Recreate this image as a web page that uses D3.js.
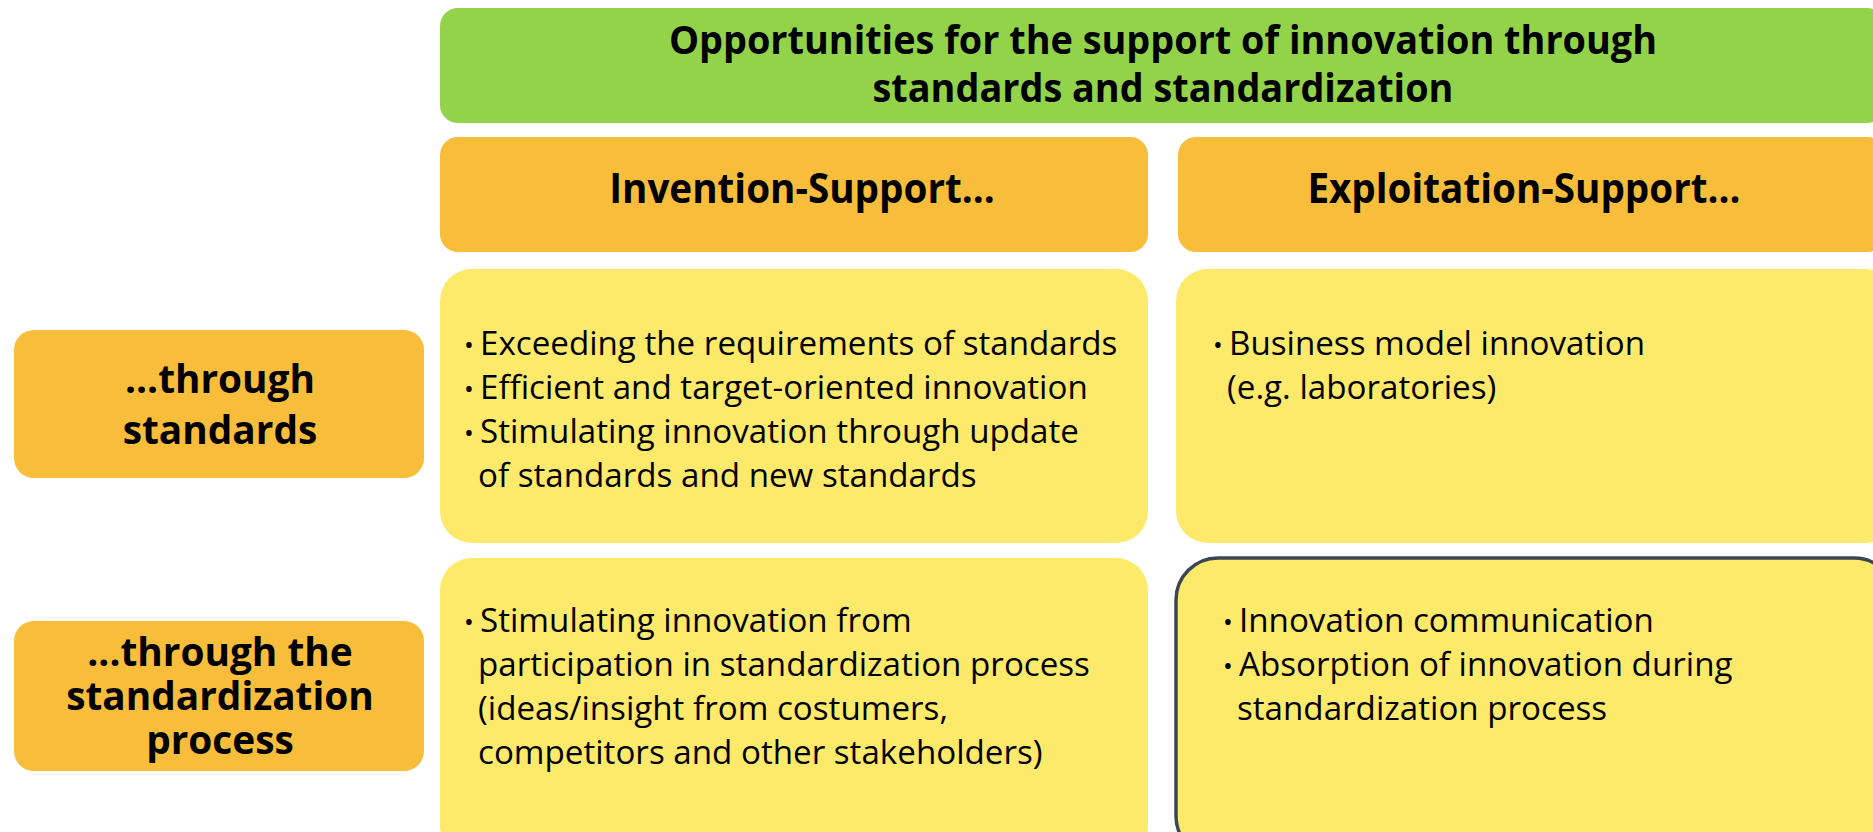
<!DOCTYPE html>
<html>
<head>
<meta charset="utf-8">
<script src="https://cdn.jsdelivr.net/npm/d3@7"></script>
<style>
  html, body { margin: 0; padding: 0; background: #ffffff; overflow: hidden; }
  svg { display: block; }
</style>
</head>
<body>
<svg id="chart" width="1873" height="832"></svg>
<script>
// ---------- data ----------
const titleLines = ["Opportunities for the support of innovation through", "standards and standardization"];
const columns = ["Invention-Support...", "Exploitation-Support..."];
const rowLabels = [
  ["...through", "standards"],
  ["...through the", "standardization", "process"]
];
// cellItems[row][col] = list of bullet items, each a list of lines
const cellItems = [
  [
    [["Exceeding the requirements of standards"],
     ["Efficient and target-oriented innovation"],
     ["Stimulating innovation through update", "of standards and new standards"]],
    [["Business model innovation", "(e.g. laboratories)"]]
  ],
  [
    [["Stimulating innovation from", "participation in standardization process",
      "(ideas/insight from costumers,", "competitors and other stakeholders)"]],
    [["Innovation communication"],
     ["Absorption of innovation during", "standardization process"]]
  ]
];
const highlightCell = [1, 1];

// ---------- layout & style ----------
const colors = { green: "#93d34a", orange: "#f9bd3c", yellow: "#fde96a", border: "#3c4651", text: "#000000" };
const fontBold = "'Open Sans', 'Noto Sans', sans-serif";
const fontBody = "'Open Sans', 'Noto Sans', sans-serif";

const colX = d3.scaleOrdinal().domain([0, 1]).range([440, 1176]);
const colW = d3.scaleOrdinal().domain([0, 1]).range([708, 720]);
const rowY = d3.scaleOrdinal().domain([0, 1]).range([269, 558]);
const rowH = d3.scaleOrdinal().domain([0, 1]).range([274, 300]);
const labelY = d3.scaleOrdinal().domain([0, 1]).range([330, 621]);
const labelH = d3.scaleOrdinal().domain([0, 1]).range([148, 150]);

const cellLayout = {
  "0-0": { bx: 24, ty: 86 },
  "0-1": { bx: 37, ty: 86 },
  "1-0": { bx: 24, ty: 74 },
  "1-1": { bx: 47, ty: 74 }
};

const svg = d3.select("#chart");

function squeeze(sel, k) {
  sel.each(function () {
    const len = this.getComputedTextLength();
    d3.select(this).attr("textLength", len * k).attr("lengthAdjust", "spacingAndGlyphs");
  });
}

// ---------- title box ----------
svg.append("rect")
  .attr("x", 440).attr("y", 8).attr("width", 1445).attr("height", 115)
  .attr("rx", 18).attr("fill", colors.green);

svg.append("text")
  .attr("text-anchor", "middle")
  .attr("font-family", fontBold).attr("font-weight", 700).attr("font-size", 39)
  .attr("fill", colors.text)
  .selectAll("tspan").data(titleLines).join("tspan")
  .attr("x", 1163).attr("y", (d, i) => 54 + i * 48)
  .text(d => d)
  .call(squeeze, 0.97);

// ---------- column headers ----------
const headerG = svg.append("g").selectAll("g").data(columns).join("g");
headerG.append("rect")
  .attr("x", (d, i) => i === 0 ? colX(i) : 1178).attr("y", 137)
  .attr("width", (d, i) => i === 0 ? colW(i) : 707).attr("height", 115)
  .attr("rx", 18).attr("fill", colors.orange);
headerG.append("text")
  .attr("x", (d, i) => i === 0 ? 802 : 1524).attr("y", 203)
  .attr("text-anchor", "middle")
  .attr("font-family", fontBold).attr("font-weight", 700).attr("font-size", 42)
  .attr("fill", colors.text)
  .text(d => d)
  .call(squeeze, 0.92);

// ---------- row labels ----------
const labelG = svg.append("g").selectAll("g").data(rowLabels).join("g");
labelG.append("rect")
  .attr("x", 14).attr("y", (d, i) => labelY(i))
  .attr("width", 410).attr("height", (d, i) => labelH(i))
  .attr("rx", 20).attr("fill", colors.orange);
labelG.each(function (lines, i) {
  const lh = i === 0 ? 51 : 44;
  const cy = labelY(i) + labelH(i) / 2;
  const first = cy - (lines.length - 1) * lh / 2 + 14;
  d3.select(this).append("text")
    .attr("text-anchor", "middle")
    .attr("font-family", fontBold).attr("font-weight", 700).attr("font-size", 40)
    .attr("fill", colors.text)
    .selectAll("tspan").data(lines).join("tspan")
    .attr("x", 220).attr("y", (d, j) => first + j * lh)
    .text(d => d)
    .call(squeeze, 0.97);
});

// ---------- cells ----------
const cellData = [];
cellItems.forEach((row, r) => row.forEach((items, c) => cellData.push({ r, c, items })));

const isHi = d => d.r === highlightCell[0] && d.c === highlightCell[1];

const cellG = svg.append("g").selectAll("g").data(cellData).join("g");
cellG.append("rect")
  .attr("x", d => colX(d.c)).attr("y", d => rowY(d.r))
  .attr("width", d => colW(d.c)).attr("height", d => rowH(d.r))
  .attr("rx", d => isHi(d) ? 42 : 32)
  .attr("fill", colors.yellow)
  .attr("stroke", d => isHi(d) ? colors.border : "none")
  .attr("stroke-width", 3.5);

cellG.each(function (d) {
  const L = cellLayout[d.r + "-" + d.c];
  const bx = colX(d.c) + L.bx;
  const tx = bx + 16;
  let y = rowY(d.r) + L.ty;
  const txt = d3.select(this).append("text")
    .attr("font-family", fontBody).attr("font-size", 32.5)
    .attr("fill", colors.text);
  d.items.forEach(lines => {
    lines.forEach((line, j) => {
      if (j === 0) {
        txt.append("tspan").attr("x", bx).attr("y", y - 1)
          .attr("font-size", 26).text("\u2022");
      }
      txt.append("tspan")
        .attr("x", j === 0 ? tx : tx - 2).attr("y", y)
        .text(line)
        .call(squeeze, 1.02);
      y += 44;
    });
  });
});
</script>
</body>
</html>
